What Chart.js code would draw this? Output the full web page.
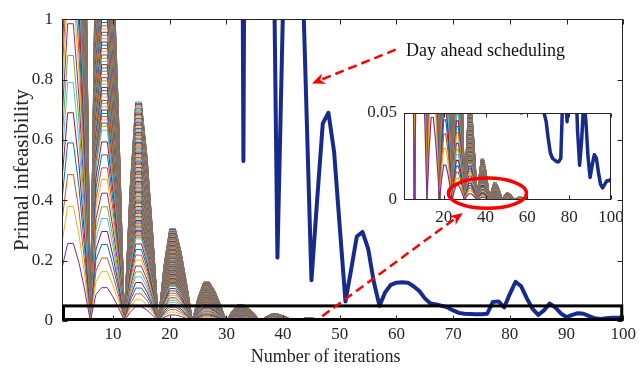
<!DOCTYPE html>
<html>
<head>
<meta charset="utf-8">
<title>Primal infeasibility</title>
<script src="https://cdn.jsdelivr.net/npm/chart.js@4.4.1/dist/chart.umd.min.js"></script>
<style>
  body { margin: 0; background: #fff; }
  #wrap { position: relative; width: 639px; height: 376px; }
  #wrap canvas { position: absolute; left: 0; top: 0; }
</style>
</head>
<body>
<div id="wrap">
  <canvas id="main" width="639" height="376"></canvas>
  <canvas id="inset" width="639" height="376"></canvas>
</div>
<script>
// Primal infeasibility vs iterations, with a zoomed inset of the 0..0.05 band

const xTicks = [10, 20, 30, 40, 50, 60, 70, 80, 90, 100];
const yTicks = [0, 0.2, 0.4, 0.6, 0.8, 1];
const insetXTicks = [20, 40, 60, 80, 100];
const insetYTicks = [0, 0.05];

const iterations = Array.from({ length: 100 }, (_, i) => i + 1);

// day ahead scheduling (values above 1 are off the plot, estimated)
const dayAhead = [
  5, 5, 5, 5, 5, 5, 5, 5, 5, 5,
  5, 5, 5, 5, 5, 5, 5, 5, 5, 5,
  5, 5, 5, 5, 5, 5, 5, 5, 5, 5,
  5, 5, 0.53, 5, 5, 5, 5, 1.8, 0.21, 1.05,
  3, 3, 1.42, 0.78, 0.135, 0.40, 0.655, 0.69, 0.56, 0.31,
  0.065, 0.17, 0.28, 0.295, 0.24, 0.13, 0.05, 0.095, 0.12, 0.127,
  0.128, 0.127, 0.115, 0.1, 0.075, 0.058, 0.055, 0.05, 0.045, 0.035,
  0.027, 0.024, 0.023, 0.022, 0.022, 0.024, 0.063, 0.065, 0.045, 0.09,
  0.13, 0.115, 0.075, 0.04, 0.02, 0.035, 0.058, 0.045, 0.025, 0.013,
  0.02, 0.026, 0.024, 0.016, 0.009, 0.007, 0.009, 0.011, 0.011, 0.012
];

// common oscillation profile of the agent curves (first hump peak = 1)
const decayShape = [
  0.68, 1, 1, 0.75, 0.4, 0,
  0.344, 0.43, 0.43, 0.31, 0.17, 0,
  0.111, 0.185, 0.185, 0.139, 0.074, 0,
  0.047, 0.078, 0.078, 0.0585, 0.031, 0,
  0.02, 0.033, 0.033, 0.025, 0.013, 0,
  0.0084, 0.014, 0.014, 0.0105, 0.0056, 0,
  0.0036, 0.006, 0.006, 0.0045, 0.0024, 0,
  0.0015, 0.0025, 0.0025, 0.0019, 0.001, 0,
  0.0006, 0.001, 0.001, 0.00075, 0.0004, 0,
  0.00024, 0.0004, 0.0004, 0.0003, 0.00016, 0,
  0, 0, 0, 0, 0, 0, 0, 0, 0, 0,
  0, 0, 0, 0, 0, 0, 0, 0, 0, 0,
  0, 0, 0, 0, 0, 0, 0, 0, 0, 0,
  0, 0, 0, 0, 0, 0, 0, 0, 0, 0
];

// first-hump peak of each agent curve, smallest first
const agentPeak = [
  0.257, 0.38, 0.485, 0.59, 0.69, 0.79, 0.88, 0.985, 1.09, 1.18, 1.28, 1.38, 1.47,
  1.500, 1.525, 1.550, 1.575, 1.600, 1.625, 1.650, 1.675,
  1.700, 1.725, 1.750, 1.775, 1.800, 1.825, 1.850, 1.875,
  1.900, 1.925, 1.950, 1.975, 2.000, 2.025, 2.050, 2.075,
  2.100, 2.125, 2.150, 2.175, 2.200, 2.225, 2.250, 2.275,
  2.300, 2.325, 2.350, 2.375, 2.400, 2.425, 2.450, 2.475,
  2.500, 2.525, 2.550, 2.575, 2.600, 2.625, 2.650, 2.675,
  2.700, 2.725, 2.750, 2.775, 2.800, 2.825, 2.850, 2.875,
  2.900, 2.925, 2.950, 2.975, 3.000, 3.025, 3.050, 3.075,
  3.100, 3.125, 3.150, 3.175, 3.200, 3.225, 3.250, 3.275,
  3.300, 3.325, 3.350, 3.375, 3.400, 3.425, 3.450, 3.475,
  3.500, 3.525, 3.550, 3.575, 3.600, 3.625, 3.650, 3.675,
  3.700, 3.725, 3.750, 3.775, 3.800, 3.825, 3.850, 3.875,
  3.900, 3.925
];

const palette = ["#7E2F8E", "#EDB120", "#D95319", "#0072BD", "#A2142F", "#4DBEEE", "#77AC30"];
const dayColor = "#182B8C";
const axisColor = "#262626";
const red = "#FF0000";
const serif = "'Liberation Serif', 'Times New Roman', serif";

function toPoints(values) {
  return values.map((v, i) => ({ x: iterations[i], y: v }));
}

function buildDatasets(agentWidth, dayWidth) {
  const sets = [{
    data: toPoints(dayAhead), borderColor: dayColor, borderWidth: dayWidth,
    borderCapStyle: "round", borderJoinStyle: "round"
  }];
  agentPeak.forEach((p, j) => {
    sets.push({ data: toPoints(decayShape.map(s => s * p)), borderColor: palette[j % 7], borderWidth: agentWidth });
  });
  sets.forEach(s => { s.pointRadius = 0; s.tension = 0; s.fill = false; s.clip = 0; });
  return sets;
}

function drawFrame(chart, xt, yt, len) {
  const { ctx, chartArea: a, scales: { x, y } } = chart;
  const l = Math.round(a.left) + 0.5, r = Math.round(a.right) - 0.5;
  const t = Math.round(a.top) + 0.5, b = Math.round(a.bottom) - 0.5;
  ctx.save();
  ctx.strokeStyle = axisColor;
  ctx.lineWidth = 1;
  ctx.strokeRect(l, t, r - l, b - t);
  ctx.beginPath();
  xt.forEach(v => {
    const px = Math.round(x.getPixelForValue(v)) + 0.5;
    ctx.moveTo(px, b); ctx.lineTo(px, b - len);
    ctx.moveTo(px, t); ctx.lineTo(px, t + len);
  });
  yt.forEach(v => {
    const py = Math.round(y.getPixelForValue(v)) + 0.5;
    ctx.moveTo(l, py); ctx.lineTo(l + len, py);
    ctx.moveTo(r, py); ctx.lineTo(r - len, py);
  });
  ctx.stroke();
  ctx.restore();
}

function drawArrow(ctx, x0, y0, x1, y1) {
  const ang = Math.atan2(y1 - y0, x1 - x0);
  const cos = Math.cos(ang), sin = Math.sin(ang);
  const len = 13, half = 5.5;
  const bx = x1 - cos * len * 0.7, by = y1 - sin * len * 0.7;
  ctx.save();
  ctx.strokeStyle = red;
  ctx.fillStyle = red;
  ctx.lineWidth = 2.5;
  ctx.setLineDash([9, 5]);
  ctx.beginPath();
  ctx.moveTo(x0, y0);
  ctx.lineTo(bx, by);
  ctx.stroke();
  ctx.setLineDash([]);
  ctx.beginPath();
  ctx.moveTo(x1, y1);
  ctx.lineTo(x1 - cos * len - sin * half, y1 - sin * len + cos * half);
  ctx.lineTo(bx, by);
  ctx.lineTo(x1 - cos * len + sin * half, y1 - sin * len - cos * half);
  ctx.closePath();
  ctx.fill();
  ctx.restore();
}

const mainDecor = {
  id: "mainDecor",
  afterDraw(chart) {
    const { ctx, chartArea: a, scales: { x, y } } = chart;
    drawFrame(chart, xTicks, yTicks, 5);
    // highlighted band 0..0.05
    ctx.save();
    ctx.strokeStyle = "#000";
    ctx.lineWidth = 3;
    const l = x.getPixelForValue(1) + 1.5, r = x.getPixelForValue(100) - 1.5;
    const t = y.getPixelForValue(0.05), b = y.getPixelForValue(0) - 1.5;
    ctx.strokeRect(l, t, r - l, b - t);
    ctx.restore();
    drawArrow(ctx, x.getPixelForValue(59.85), y.getPixelForValue(0.899),
      x.getPixelForValue(45.08), y.getPixelForValue(0.787));
    ctx.save();
    ctx.fillStyle = "#111";
    ctx.font = "18px " + serif;
    ctx.textBaseline = "alphabetic";
    ctx.fillText("Day ahead scheduling", x.getPixelForValue(61.7), y.getPixelForValue(0.877));
    // x axis title sits a little left of the axis centre in the original
    ctx.fillStyle = axisColor;
    ctx.font = "18px " + serif;
    ctx.textAlign = "center";
    ctx.textBaseline = "middle";
    ctx.fillText("Number of iterations", x.getPixelForValue(47.5), a.bottom + 36);
    ctx.restore();
  }
};

const baseOptions = {
  responsive: false,
  animation: false,
  devicePixelRatio: 1,
  parsing: false,
  normalized: true,
  events: [],
  plugins: { legend: { display: false }, tooltip: { enabled: false } }
};

const mainChart = new Chart(document.getElementById("main"), {
  type: "line",
  data: { datasets: buildDatasets(1, 4) },
  options: {
    ...baseOptions,
    layout: { padding: { left: 0, right: 14, top: 14, bottom: 0 } },
    scales: {
      x: {
        type: "linear", min: 1, max: 100,
        afterBuildTicks: s => { s.ticks = xTicks.map(v => ({ value: v })); },
        afterFit: s => { s.height = 55; },
        grid: { display: false, drawTicks: false },
        border: { display: false },
        ticks: { color: axisColor, font: { family: serif, size: 17 }, padding: 3, maxRotation: 0, callback: v => String(v) }
      },
      y: {
        type: "linear", min: 0, max: 1,
        afterBuildTicks: s => { s.ticks = yTicks.map(v => ({ value: v })); },
        afterFit: s => { s.width = 62; },
        grid: { display: false, drawTicks: false },
        border: { display: false },
        ticks: { color: axisColor, font: { family: serif, size: 17 }, padding: 9, callback: v => String(v) },
        title: { display: true, text: "Primal infeasibility", color: axisColor, font: { family: serif, size: 21 }, padding: { top: 9.5, bottom: 0 } }
      }
    }
  },
  plugins: [mainDecor]
});

const insetDecor = {
  id: "insetDecor",
  beforeDatasetsDraw(chart) {
    const { ctx, chartArea: a } = chart;
    ctx.save();
    ctx.fillStyle = "#fff";
    ctx.fillRect(a.left, a.top, a.right - a.left, a.bottom - a.top);
    ctx.restore();
  },
  afterDraw(chart) {
    const { ctx, scales: { x, y } } = chart;
    drawFrame(chart, insetXTicks, [], 4);
    // ellipse around the small residual humps
    const cx = x.getPixelForValue(40.9), cy = y.getPixelForValue(0.0039);
    const rx = x.getPixelForValue(59.6) - cx, ry = cy - y.getPixelForValue(0.0126);
    ctx.save();
    ctx.strokeStyle = red;
    ctx.lineWidth = 3.5;
    ctx.beginPath();
    ctx.ellipse(cx, cy, rx, ry, 0, 0, Math.PI * 2);
    ctx.stroke();
    ctx.restore();
    const mx = mainChart.scales.x, my = mainChart.scales.y;
    drawArrow(ctx, mx.getPixelForValue(46.9), my.getPixelForValue(0.016),
      mx.getPixelForValue(71.7), my.getPixelForValue(0.358));
  }
};

new Chart(document.getElementById("inset"), {
  type: "line",
  data: { datasets: buildDatasets(1.2, 3.5) },
  options: {
    ...baseOptions,
    layout: { padding: { left: 364, right: 28, top: 113, bottom: 151 } },
    scales: {
      x: {
        type: "linear", min: 1, max: 100,
        afterBuildTicks: s => { s.ticks = insetXTicks.map(v => ({ value: v })); },
        afterFit: s => { s.height = 25; },
        grid: { display: false, drawTicks: false },
        border: { display: false },
        ticks: { color: axisColor, font: { family: serif, size: 17 }, padding: 7, maxRotation: 0, callback: v => String(v) }
      },
      y: {
        type: "linear", min: 0, max: 0.05,
        afterBuildTicks: s => { s.ticks = insetYTicks.map(v => ({ value: v })); },
        afterFit: s => { s.width = 40; },
        grid: { display: false, drawTicks: false },
        border: { display: false },
        ticks: { color: axisColor, font: { family: serif, size: 17 }, padding: 7, callback: v => String(v) }
      }
    }
  },
  plugins: [insetDecor]
});
</script>
</body>
</html>
